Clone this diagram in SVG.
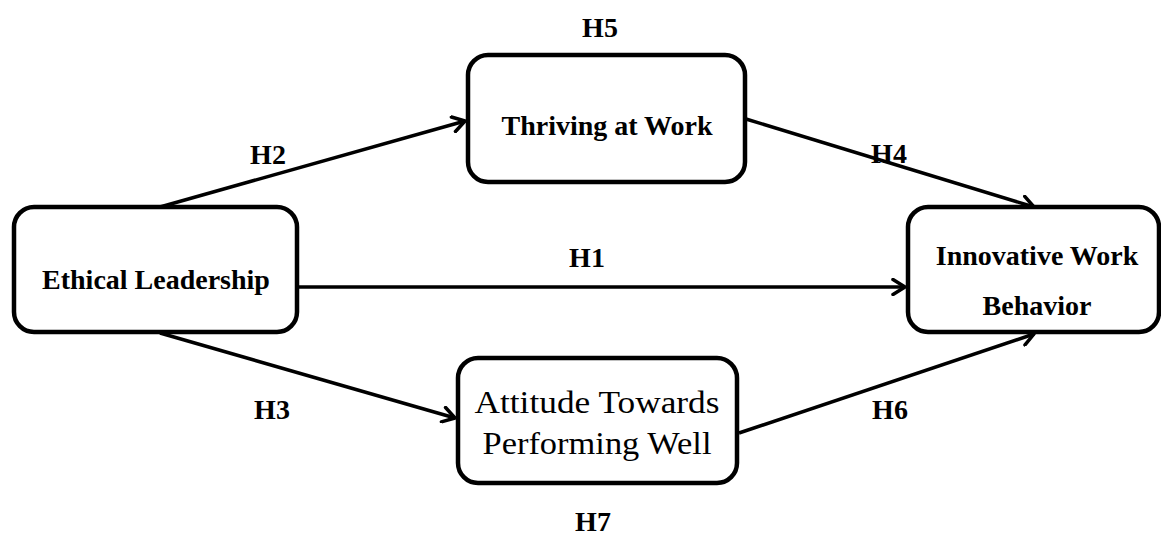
<svg xmlns="http://www.w3.org/2000/svg" width="1161" height="542" viewBox="0 0 1161 542">
<style>
.box{fill:#fff;stroke:#000;stroke-width:4.5}
.lbl{font-family:"Liberation Serif","Times New Roman",serif;font-weight:bold;font-size:28px;fill:#000;text-anchor:middle}
.pal{font-family:"Liberation Serif","Times New Roman",serif;font-size:31px;fill:#000;text-anchor:middle}
.con{stroke:#000;stroke-width:3.5;fill:none;marker-end:url(#arr)}
</style>
<defs>
<marker id="arr" markerUnits="userSpaceOnUse" markerWidth="16" markerHeight="18" viewBox="0 0 16 18" refX="14" refY="9" orient="auto">
<path d="M2,1.5 L14,9 L2,16.5" fill="none" stroke="#000" stroke-width="3.5" stroke-linecap="round" stroke-linejoin="round"/>
</marker>
</defs>
<rect width="1161" height="542" fill="#fff"/>
<g id="connectors">
<line class="con" x1="160" y1="207" x2="465" y2="121"/>
<line class="con" x1="746" y1="119" x2="1034" y2="207"/>
<line class="con" x1="297" y1="287" x2="905" y2="287"/>
<line class="con" x1="160" y1="333" x2="455" y2="418"/>
<line class="con" x1="739" y1="433" x2="1034" y2="334"/>
<text class="lbl" x="600" y="37">H5</text>
<text class="lbl" x="268" y="164">H2</text>
<text class="lbl" x="889" y="163">H4</text>
<text class="lbl" x="587" y="267">H1</text>
<text class="lbl" x="272" y="419">H3</text>
<text class="lbl" x="890" y="419">H6</text>
<text class="lbl" x="593" y="531">H7</text>
</g>
<g id="ethical">
<rect class="box" x="14" y="207" width="283" height="125" rx="20"/>
<text class="lbl" x="156" y="289">Ethical Leadership</text>
</g>
<g id="thriving">
<rect class="box" x="468" y="55" width="277" height="127" rx="20"/>
<text class="lbl" x="607" y="135">Thriving at Work</text>
</g>
<g id="attitude">
<rect class="box" x="458" y="358" width="279" height="125" rx="20"/>
<text class="pal" x="597" y="413" textLength="245" lengthAdjust="spacingAndGlyphs">Attitude Towards</text>
<text class="pal" x="597" y="454" textLength="229" lengthAdjust="spacingAndGlyphs">Performing Well</text>
</g>
<g id="innovative">
<rect class="box" x="908" y="207" width="251" height="125" rx="20"/>
<text class="lbl" x="1037" y="265">Innovative Work</text>
<text class="lbl" x="1037" y="315">Behavior</text>
</g>
</svg>
